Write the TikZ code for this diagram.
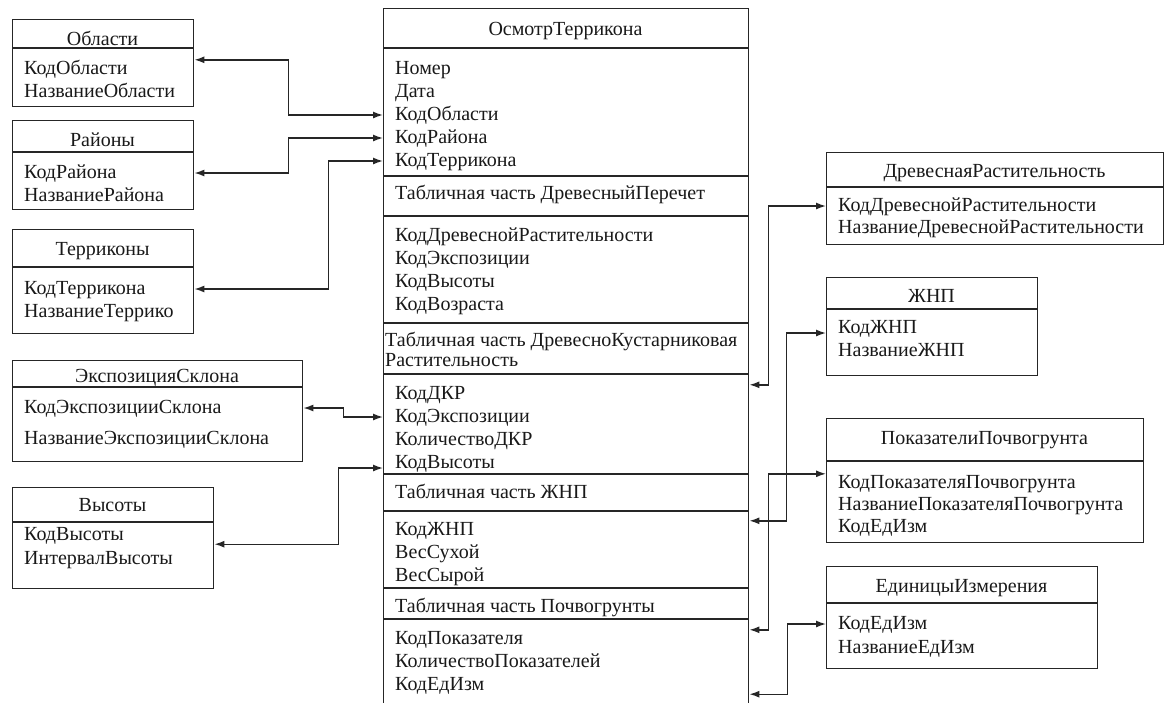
\documentclass[tikz,border=0pt]{standalone}
\usepackage{fontspec}
\setmainfont{Liberation Serif}
\usetikzlibrary{arrows.meta}

\newcommand\tabfont{\fontsize{20}{23}\selectfont}

\tikzset{
  tbl/.style={draw=black!85, line width=1.4pt, anchor=north west, inner sep=0pt},
  sep/.style={draw=black!85, line width=1.4pt},
  ttl/.style={anchor=base, inner sep=0pt, font=\tabfont, text=black!90},
  fld/.style={anchor=base west, inner sep=0pt, font=\tabfont, text=black!90,
    text height=14pt, text depth=4pt},
  link/.style={draw=black!85, line width=1.4pt,
    {Latex[length=10pt,width=7pt]}-{Latex[length=10pt,width=7pt]}},
}

\begin{document}
\begin{tikzpicture}[x=1pt, y=-1pt]
\clip (0,0) rectangle (1166,702);
\fill[white] (0,0) rectangle (1166,702);

% left tables
\node[tbl, minimum width=181pt, minimum height=87pt] (obl) at (12,19) {};
\draw[sep] (obl.west |- 0,48) -- (obl.east |- 0,48);
\node[ttl] (oblT) at (102.5,45) {Области};
\foreach \t [count=\i] in {КодОбласти,НазваниеОбласти}
  \node[fld] (obl\i) at (24,51+23*\i) {\t};

\node[tbl, minimum width=181pt, minimum height=89pt] (ray) at (12,120) {};
\draw[sep] (ray.west |- 0,152) -- (ray.east |- 0,152);
\node[ttl] (rayT) at (102.5,146) {Районы};
\foreach \t [count=\i] in {КодРайона,НазваниеРайона}
  \node[fld] (ray\i) at (24,155+23*\i) {\t};

\node[tbl, minimum width=181pt, minimum height=104pt] (ter) at (12,229) {};
\draw[sep] (ter.west |- 0,267) -- (ter.east |- 0,267);
\node[ttl] (terT) at (102.5,255) {Терриконы};
\foreach \t [count=\i] in {КодТеррикона,НазваниеТеррико}
  \node[fld] (ter\i) at (24,271+23*\i) {\t};

\node[tbl, minimum width=290pt, minimum height=101pt] (eks) at (12,360) {};
\draw[sep] (eks.west |- 0,387) -- (eks.east |- 0,387);
\node[ttl] (eksT) at (157,382) {ЭкспозицияСклона};
\foreach \t [count=\i] in {КодЭкспозицииСклона,НазваниеЭкспозицииСклона}
  \node[fld] (eks\i) at (24,382+31*\i) {\t};

\node[tbl, minimum width=201pt, minimum height=101pt] (vys) at (12,487) {};
\draw[sep] (vys.west |- 0,522) -- (vys.east |- 0,522);
\node[ttl] (vysT) at (112.5,511) {Высоты};
\foreach \t [count=\i] in {КодВысоты,ИнтервалВысоты}
  \node[fld] (vys\i) at (24,516+24*\i) {\t};

% main table
\node[tbl, minimum width=365pt, minimum height=712pt] (osm) at (383,8) {};
\foreach \y in {48,176,216,323,374,474,511,588,619}
  \draw[sep] (osm.west |- 0,\y) -- (osm.east |- 0,\y);
\node[ttl] (osmT) at (565.5,35) {ОсмотрТеррикона};
\foreach \t [count=\i] in {Номер,Дата,КодОбласти,КодРайона,КодТеррикона}
  \node[fld] (osmA\i) at (395,51+23*\i) {\t};
\node[fld] (hdA) at (395,199) {Табличная часть ДревесныйПеречет};
\foreach \t [count=\i] in {КодДревеснойРастительности,КодЭкспозиции,КодВысоты,КодВозраста}
  \node[fld] (osmB\i) at (395,218+23*\i) {\t};
\node[fld] (hdB1) at (385,346) {Табличная часть ДревесноКустарниковая};
\node[fld] (hdB2) at (385,366) {Растительность};
\foreach \t [count=\i] in {КодДКР,КодЭкспозиции,КоличествоДКР,КодВысоты}
  \node[fld] (osmC\i) at (395,376+23*\i) {\t};
\node[fld] (hdC) at (395,498) {Табличная часть ЖНП};
\foreach \t [count=\i] in {КодЖНП,ВесСухой,ВесСырой}
  \node[fld] (osmD\i) at (395,512+23*\i) {\t};
\node[fld] (hdD) at (395,612) {Табличная часть Почвогрунты};
\foreach \t [count=\i] in {КодПоказателя,КоличествоПоказателей,КодЕдИзм}
  \node[fld] (osmE\i) at (395,621+23*\i) {\t};

% right tables
\node[tbl, minimum width=337pt, minimum height=92pt] (drv) at (826,152) {};
\draw[sep] (drv.west |- 0,187) -- (drv.east |- 0,187);
\node[ttl] (drvT) at (994.5,177) {ДревеснаяРастительность};
\foreach \t [count=\i] in {КодДревеснойРастительности,НазваниеДревеснойРастительности}
  \node[fld] (drv\i) at (838,189+22*\i) {\t};

\node[tbl, minimum width=211pt, minimum height=98pt] (jnp) at (826,277) {};
\draw[sep] (jnp.west |- 0,309) -- (jnp.east |- 0,309);
\node[ttl] (jnpT) at (931.5,302) {ЖНП};
\foreach \t [count=\i] in {КодЖНП,НазваниеЖНП}
  \node[fld] (jnp\i) at (838,310+23*\i) {\t};

\node[tbl, minimum width=317pt, minimum height=124pt] (pok) at (826,418) {};
\draw[sep] (pok.west |- 0,461) -- (pok.east |- 0,461);
\node[ttl] (pokT) at (984.5,444) {ПоказателиПочвогрунта};
\foreach \t [count=\i] in {КодПоказателяПочвогрунта,НазваниеПоказателяПочвогрунта,КодЕдИзм}
  \node[fld] (pok\i) at (838,466+22*\i) {\t};

\node[tbl, minimum width=271pt, minimum height=102pt] (edi) at (826,566) {};
\draw[sep] (edi.west |- 0,603) -- (edi.east |- 0,603);
\node[ttl] (ediT) at (961.5,592) {ЕдиницыИзмерения};
\foreach \t [count=\i] in {КодЕдИзм,НазваниеЕдИзм}
  \node[fld] (edi\i) at (838,605+24*\i) {\t};

% links
\draw[link] (obl.east |- obl1.north) -- ++(94,0) |- (osm.west |- osmA3);
\draw[link] (ray.east |- ray1) -- ++(94,0) |- (osm.west |- osmA4);
\draw[link] (ter.east |- ter1) -- ++(134,0) |- (osm.west |- osmA5);
\draw[link] (eks.east |- eks1) -- ++(40,0) |- (osm.west |- osmC2);
\draw[link] (vys.east |- vys1.south) -- ++(124,0) |- (osm.west |- osmC4.base);
\draw[link] (osm.east |- osmC1.north) -- ++(19,0) |- (drv.west |- drv1);
\draw[link] (osm.east |- osmD1.north) -- ++(37,0) |- (jnp.west |- jnp1.base);
\draw[link] (osm.east |- osmE1.north) -- ++(19,0) |- (pok.west |- pok1.north);
\draw[link] (osm.east |- osmE3.south) -- ++(38,0) |- (edi.west |- edi1);
\end{tikzpicture}
\end{document}
